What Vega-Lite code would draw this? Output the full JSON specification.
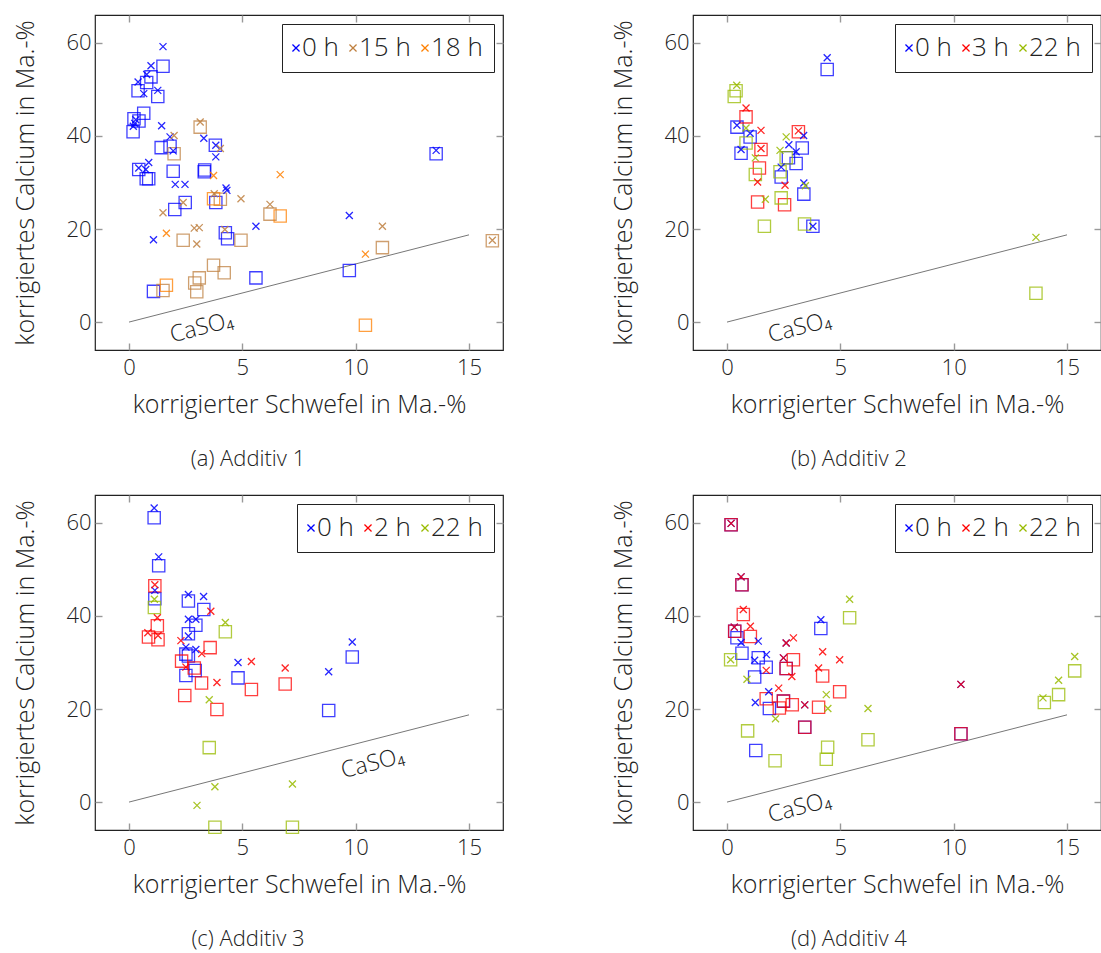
{
"$schema":"https://vega.github.io/schema/vega-lite/v6.json",
"padding":{"left":13,"top":13,"right":0,"bottom":0},
"background":"white",
"columns":2,
"spacing":{"row":145,"column":190},
"bounds":"flush",
"resolve":{"scale":{"color":"independent"},"legend":{"color":"independent"}},
"config":{
 "font":"Open Sans",
 "view":{"stroke":"#222","strokeWidth":1.2},
 "axis":{"domain":false,"grid":false,"tickSize":-7,"tickColor":"#999","tickWidth":1.4,"labelFont":"Open Sans","labelFontSize":22,"labelFontWeight":300,"labelColor":"#222","titleFont":"Open Sans","titleFontSize":25,"titleFontWeight":300,"titleColor":"#222"},
 "axisX":{"labelPadding":14,"titlePadding":14},
 "axisY":{"labelPadding":11,"titlePadding":27},
 "title":{"font":"Open Sans","fontSize":22,"fontWeight":300,"color":"#222"},
 "legend":{"orient":"top-right","direction":"horizontal","symbolType":"M-1,-1L1,1M-1,1L1,-1","symbolSize":50,"symbolStrokeWidth":1.3,"symbolOpacity":1,"symbolOffset":-10,"labelFont":"Open Sans","labelFontSize":26,"labelFontWeight":300,"labelColor":"#222","strokeColor":"#222","fillColor":"white","padding":11,"offset":9,"columnPadding":7,"labelOffset":-7}
},
"datasets":{
 "caso4":[{"S":0,"Ca":0},{"S":15,"Ca":18.75}],
 "lab_abd":[{"S":3.2,"Ca":-1.2,"txt":"CaSO₄"}],
 "lab_c":[{"S":10.75,"Ca":8.3,"txt":"CaSO₄"}],
 "a":[
  {"t":"0 h","m":"x","S":1.50,"Ca":59.2},{"t":"0 h","m":"x","S":0.97,"Ca":55.1},{"t":"0 h","m":"x","S":0.78,"Ca":53.2},{"t":"0 h","m":"x","S":0.40,"Ca":51.6},{"t":"0 h","m":"x","S":0.65,"Ca":49.1},{"t":"0 h","m":"x","S":1.27,"Ca":49.8},{"t":"0 h","m":"x","S":0.30,"Ca":43.5},{"t":"0 h","m":"x","S":0.25,"Ca":42.7},{"t":"0 h","m":"x","S":0.19,"Ca":42.1},{"t":"0 h","m":"x","S":1.44,"Ca":42.2},{"t":"0 h","m":"x","S":1.81,"Ca":39.8},{"t":"0 h","m":"x","S":1.95,"Ca":36.8},{"t":"0 h","m":"x","S":3.30,"Ca":39.5},{"t":"0 h","m":"x","S":3.83,"Ca":38.0},{"t":"0 h","m":"x","S":3.83,"Ca":35.5},{"t":"0 h","m":"x","S":0.87,"Ca":34.3},{"t":"0 h","m":"x","S":0.43,"Ca":33.1},{"t":"0 h","m":"x","S":0.74,"Ca":32.8},{"t":"0 h","m":"x","S":2.04,"Ca":29.6},{"t":"0 h","m":"x","S":2.47,"Ca":29.6},{"t":"0 h","m":"x","S":4.28,"Ca":28.8},{"t":"0 h","m":"x","S":4.32,"Ca":28.3},{"t":"0 h","m":"x","S":5.6,"Ca":20.6},{"t":"0 h","m":"x","S":9.72,"Ca":22.9},{"t":"0 h","m":"x","S":1.08,"Ca":17.7},{"t":"0 h","m":"x","S":13.55,"Ca":36.9},
  {"t":"0 h","m":"s","S":1.50,"Ca":55.0},{"t":"0 h","m":"s","S":0.97,"Ca":52.7},{"t":"0 h","m":"s","S":0.78,"Ca":51.5},{"t":"0 h","m":"s","S":0.40,"Ca":49.7},{"t":"0 h","m":"s","S":1.27,"Ca":48.5},{"t":"0 h","m":"s","S":0.65,"Ca":44.9},{"t":"0 h","m":"s","S":0.22,"Ca":43.7},{"t":"0 h","m":"s","S":0.44,"Ca":43.2},{"t":"0 h","m":"s","S":0.18,"Ca":40.9},{"t":"0 h","m":"s","S":1.42,"Ca":37.5},{"t":"0 h","m":"s","S":1.81,"Ca":37.8},{"t":"0 h","m":"s","S":3.81,"Ca":38.0},{"t":"0 h","m":"s","S":0.43,"Ca":32.8},{"t":"0 h","m":"s","S":0.76,"Ca":30.8},{"t":"0 h","m":"s","S":0.87,"Ca":30.8},{"t":"0 h","m":"s","S":1.95,"Ca":32.4},{"t":"0 h","m":"s","S":3.32,"Ca":32.3},{"t":"0 h","m":"s","S":3.34,"Ca":32.7},{"t":"0 h","m":"s","S":2.48,"Ca":25.7},{"t":"0 h","m":"s","S":2.02,"Ca":24.2},{"t":"0 h","m":"s","S":3.83,"Ca":25.7},{"t":"0 h","m":"s","S":4.25,"Ca":19.2},{"t":"0 h","m":"s","S":4.35,"Ca":17.9},{"t":"0 h","m":"s","S":5.6,"Ca":9.5},{"t":"0 h","m":"s","S":9.72,"Ca":11.1},{"t":"0 h","m":"s","S":1.08,"Ca":6.6},{"t":"0 h","m":"s","S":13.55,"Ca":36.2},
  {"t":"15 h","m":"x","S":3.14,"Ca":43.0},{"t":"15 h","m":"x","S":1.99,"Ca":40.1},{"t":"15 h","m":"x","S":4.03,"Ca":37.3},{"t":"15 h","m":"x","S":3.76,"Ca":27.6},{"t":"15 h","m":"x","S":4.94,"Ca":26.5},{"t":"15 h","m":"x","S":6.22,"Ca":25.3},{"t":"15 h","m":"x","S":2.39,"Ca":25.7},{"t":"15 h","m":"x","S":1.50,"Ca":23.5},{"t":"15 h","m":"x","S":2.88,"Ca":20.2},{"t":"15 h","m":"x","S":3.10,"Ca":20.3},{"t":"15 h","m":"x","S":4.23,"Ca":19.9},{"t":"15 h","m":"x","S":2.99,"Ca":16.8},{"t":"15 h","m":"x","S":11.18,"Ca":20.6},{"t":"15 h","m":"x","S":16.03,"Ca":17.6},
  {"t":"15 h","m":"s","S":3.14,"Ca":41.9},{"t":"15 h","m":"s","S":1.99,"Ca":36.2},{"t":"15 h","m":"s","S":4.03,"Ca":26.4},{"t":"15 h","m":"s","S":6.22,"Ca":23.2},{"t":"15 h","m":"s","S":2.39,"Ca":17.6},{"t":"15 h","m":"s","S":4.94,"Ca":17.6},{"t":"15 h","m":"s","S":11.18,"Ca":16.0},{"t":"15 h","m":"s","S":16.03,"Ca":17.5},{"t":"15 h","m":"s","S":3.73,"Ca":12.2},{"t":"15 h","m":"s","S":4.20,"Ca":10.6},{"t":"15 h","m":"s","S":3.10,"Ca":9.5},{"t":"15 h","m":"s","S":2.90,"Ca":8.4},{"t":"15 h","m":"s","S":2.99,"Ca":6.5},{"t":"15 h","m":"s","S":1.50,"Ca":6.8},
  {"t":"18 h","m":"x","S":3.73,"Ca":31.5},{"t":"18 h","m":"x","S":6.67,"Ca":31.7},{"t":"18 h","m":"x","S":1.65,"Ca":19.1},{"t":"18 h","m":"x","S":10.43,"Ca":14.6},
  {"t":"18 h","m":"s","S":3.73,"Ca":26.5},{"t":"18 h","m":"s","S":6.67,"Ca":22.8},{"t":"18 h","m":"s","S":1.65,"Ca":7.9},{"t":"18 h","m":"s","S":10.43,"Ca":-0.7}
 ],
 "b":[
  {"t":"0 h","m":"x","S":4.42,"Ca":56.8},{"t":"0 h","m":"x","S":0.44,"Ca":42.3},{"t":"0 h","m":"x","S":1.02,"Ca":40.6},{"t":"0 h","m":"x","S":0.62,"Ca":37.1},{"t":"0 h","m":"x","S":2.73,"Ca":38.1},{"t":"0 h","m":"x","S":3.38,"Ca":40.1},{"t":"0 h","m":"x","S":3.05,"Ca":36.6},{"t":"0 h","m":"x","S":2.39,"Ca":33.3},{"t":"0 h","m":"x","S":3.39,"Ca":29.9},{"t":"0 h","m":"x","S":3.79,"Ca":20.6},
  {"t":"0 h","m":"s","S":4.42,"Ca":54.3},{"t":"0 h","m":"s","S":0.44,"Ca":41.9},{"t":"0 h","m":"s","S":1.02,"Ca":39.8},{"t":"0 h","m":"s","S":0.62,"Ca":36.3},{"t":"0 h","m":"s","S":3.32,"Ca":37.4},{"t":"0 h","m":"s","S":2.71,"Ca":35.3},{"t":"0 h","m":"s","S":3.05,"Ca":34.1},{"t":"0 h","m":"s","S":2.39,"Ca":31.2},{"t":"0 h","m":"s","S":3.39,"Ca":27.5},{"t":"0 h","m":"s","S":3.79,"Ca":20.6},
  {"t":"3 h","m":"x","S":0.84,"Ca":46.0},{"t":"3 h","m":"x","S":1.50,"Ca":41.2},{"t":"3 h","m":"x","S":3.15,"Ca":41.1},{"t":"3 h","m":"x","S":1.50,"Ca":37.3},{"t":"3 h","m":"x","S":1.35,"Ca":30.1},{"t":"3 h","m":"x","S":2.56,"Ca":29.4},
  {"t":"3 h","m":"s","S":0.84,"Ca":44.1},{"t":"3 h","m":"s","S":3.15,"Ca":40.9},{"t":"3 h","m":"s","S":1.50,"Ca":37.1},{"t":"3 h","m":"s","S":1.43,"Ca":33.1},{"t":"3 h","m":"s","S":1.35,"Ca":25.8},{"t":"3 h","m":"s","S":2.54,"Ca":25.2},
  {"t":"22 h","m":"x","S":0.43,"Ca":50.9},{"t":"22 h","m":"x","S":0.84,"Ca":41.7},{"t":"22 h","m":"x","S":2.61,"Ca":39.8},{"t":"22 h","m":"x","S":2.34,"Ca":36.9},{"t":"22 h","m":"x","S":1.25,"Ca":35.3},{"t":"22 h","m":"x","S":1.69,"Ca":26.4},{"t":"22 h","m":"x","S":3.46,"Ca":29.3},{"t":"22 h","m":"x","S":13.63,"Ca":18.2},
  {"t":"22 h","m":"s","S":0.40,"Ca":49.7},{"t":"22 h","m":"s","S":0.32,"Ca":48.5},{"t":"22 h","m":"s","S":0.84,"Ca":38.5},{"t":"22 h","m":"s","S":2.61,"Ca":35.3},{"t":"22 h","m":"s","S":1.25,"Ca":31.7},{"t":"22 h","m":"s","S":2.34,"Ca":32.3},{"t":"22 h","m":"s","S":2.39,"Ca":26.7},{"t":"22 h","m":"s","S":1.65,"Ca":20.6},{"t":"22 h","m":"s","S":3.42,"Ca":21.1},{"t":"22 h","m":"s","S":13.63,"Ca":6.2}
 ],
 "c":[
  {"t":"0 h","m":"x","S":1.11,"Ca":63.2},{"t":"0 h","m":"x","S":1.31,"Ca":52.7},{"t":"0 h","m":"x","S":1.14,"Ca":45.5},{"t":"0 h","m":"x","S":2.62,"Ca":44.6},{"t":"0 h","m":"x","S":3.29,"Ca":44.2},{"t":"0 h","m":"x","S":2.62,"Ca":39.3},{"t":"0 h","m":"x","S":2.95,"Ca":39.3},{"t":"0 h","m":"x","S":2.62,"Ca":35.7},{"t":"0 h","m":"x","S":2.51,"Ca":33.3},{"t":"0 h","m":"x","S":2.95,"Ca":32.8},{"t":"0 h","m":"x","S":4.81,"Ca":30.0},{"t":"0 h","m":"x","S":9.85,"Ca":34.4},{"t":"0 h","m":"x","S":8.81,"Ca":28.0},
  {"t":"0 h","m":"s","S":1.11,"Ca":61.1},{"t":"0 h","m":"s","S":1.31,"Ca":50.8},{"t":"0 h","m":"s","S":1.14,"Ca":43.7},{"t":"0 h","m":"s","S":2.62,"Ca":43.2},{"t":"0 h","m":"s","S":3.30,"Ca":41.4},{"t":"0 h","m":"s","S":2.95,"Ca":38.0},{"t":"0 h","m":"s","S":2.62,"Ca":36.2},{"t":"0 h","m":"s","S":2.51,"Ca":31.8},{"t":"0 h","m":"s","S":2.62,"Ca":31.4},{"t":"0 h","m":"s","S":2.92,"Ca":28.3},{"t":"0 h","m":"s","S":2.51,"Ca":27.2},{"t":"0 h","m":"s","S":4.81,"Ca":26.7},{"t":"0 h","m":"s","S":9.85,"Ca":31.2},{"t":"0 h","m":"s","S":8.81,"Ca":19.7},
  {"t":"2 h","m":"x","S":1.14,"Ca":46.7},{"t":"2 h","m":"x","S":1.25,"Ca":39.6},{"t":"2 h","m":"x","S":0.83,"Ca":36.4},{"t":"2 h","m":"x","S":1.28,"Ca":35.8},{"t":"2 h","m":"x","S":3.61,"Ca":41.0},{"t":"2 h","m":"x","S":2.29,"Ca":34.7},{"t":"2 h","m":"x","S":3.21,"Ca":31.9},{"t":"2 h","m":"x","S":2.51,"Ca":29.0},{"t":"2 h","m":"x","S":5.40,"Ca":30.2},{"t":"2 h","m":"x","S":6.89,"Ca":28.8},{"t":"2 h","m":"x","S":3.88,"Ca":25.7},
  {"t":"2 h","m":"s","S":1.14,"Ca":46.5},{"t":"2 h","m":"s","S":1.25,"Ca":37.9},{"t":"2 h","m":"s","S":0.86,"Ca":35.5},{"t":"2 h","m":"s","S":1.28,"Ca":34.9},{"t":"2 h","m":"s","S":3.58,"Ca":33.2},{"t":"2 h","m":"s","S":2.32,"Ca":30.3},{"t":"2 h","m":"s","S":2.88,"Ca":28.8},{"t":"2 h","m":"s","S":5.40,"Ca":24.2},{"t":"2 h","m":"s","S":6.89,"Ca":25.4},{"t":"2 h","m":"s","S":3.20,"Ca":25.6},{"t":"2 h","m":"s","S":3.88,"Ca":19.9},{"t":"2 h","m":"s","S":2.46,"Ca":22.9},
  {"t":"22 h","m":"x","S":1.12,"Ca":43.6},{"t":"22 h","m":"x","S":4.25,"Ca":38.6},{"t":"22 h","m":"x","S":3.54,"Ca":22.0},{"t":"22 h","m":"x","S":3.79,"Ca":3.3},{"t":"22 h","m":"x","S":7.21,"Ca":3.9},{"t":"22 h","m":"x","S":3.0,"Ca":-0.7},
  {"t":"22 h","m":"s","S":1.12,"Ca":41.8},{"t":"22 h","m":"s","S":4.25,"Ca":36.6},{"t":"22 h","m":"s","S":3.54,"Ca":11.7},{"t":"22 h","m":"s","S":3.79,"Ca":-5.4},{"t":"22 h","m":"s","S":7.21,"Ca":-5.4}
 ],
 "d":[
  {"t":"0 h","m":"x","S":0.18,"Ca":59.9},{"t":"0 h","m":"x","S":0.62,"Ca":48.4},{"t":"0 h","m":"x","S":0.32,"Ca":37.6},{"t":"0 h","m":"x","S":0.62,"Ca":34.3},{"t":"0 h","m":"x","S":1.38,"Ca":34.6},{"t":"0 h","m":"x","S":1.74,"Ca":31.7},{"t":"0 h","m":"x","S":1.22,"Ca":30.5},{"t":"0 h","m":"x","S":4.14,"Ca":39.2},{"t":"0 h","m":"x","S":2.61,"Ca":34.2},{"t":"0 h","m":"x","S":2.49,"Ca":31.0},{"t":"0 h","m":"x","S":1.84,"Ca":23.7},{"t":"0 h","m":"x","S":1.25,"Ca":21.4},{"t":"0 h","m":"x","S":3.43,"Ca":20.9},{"t":"0 h","m":"x","S":10.32,"Ca":25.3},
  {"t":"0 h","m":"s","S":0.18,"Ca":59.6},{"t":"0 h","m":"s","S":0.66,"Ca":46.7},{"t":"0 h","m":"s","S":0.34,"Ca":36.7},{"t":"0 h","m":"s","S":0.44,"Ca":35.3},{"t":"0 h","m":"s","S":0.66,"Ca":32.0},{"t":"0 h","m":"s","S":1.38,"Ca":31.0},{"t":"0 h","m":"s","S":1.73,"Ca":29.0},{"t":"0 h","m":"s","S":1.22,"Ca":26.9},{"t":"0 h","m":"s","S":4.14,"Ca":37.3},{"t":"0 h","m":"s","S":2.61,"Ca":28.7},{"t":"0 h","m":"s","S":2.49,"Ca":21.7},{"t":"0 h","m":"s","S":1.87,"Ca":20.1},{"t":"0 h","m":"s","S":3.43,"Ca":16.1},{"t":"0 h","m":"s","S":1.27,"Ca":11.1},{"t":"0 h","m":"s","S":10.32,"Ca":14.7},
  {"t":"2 h","m":"x","S":0.18,"Ca":59.9},{"t":"2 h","m":"x","S":0.62,"Ca":48.4},{"t":"2 h","m":"x","S":0.72,"Ca":41.4},{"t":"2 h","m":"x","S":0.32,"Ca":37.6},{"t":"2 h","m":"x","S":1.03,"Ca":37.8},{"t":"2 h","m":"x","S":1.73,"Ca":28.3},{"t":"2 h","m":"x","S":2.61,"Ca":34.2},{"t":"2 h","m":"x","S":2.93,"Ca":35.3},{"t":"2 h","m":"x","S":2.49,"Ca":31.0},{"t":"2 h","m":"x","S":2.86,"Ca":27.0},{"t":"2 h","m":"x","S":4.22,"Ca":32.3},{"t":"2 h","m":"x","S":4.97,"Ca":30.6},{"t":"2 h","m":"x","S":4.04,"Ca":28.8},{"t":"2 h","m":"x","S":2.28,"Ca":24.5},{"t":"2 h","m":"x","S":3.43,"Ca":20.9},{"t":"2 h","m":"x","S":10.32,"Ca":25.3},
  {"t":"2 h","m":"s","S":0.18,"Ca":59.6},{"t":"2 h","m":"s","S":0.66,"Ca":46.7},{"t":"2 h","m":"s","S":0.72,"Ca":40.3},{"t":"2 h","m":"s","S":0.34,"Ca":36.7},{"t":"2 h","m":"s","S":1.03,"Ca":35.6},{"t":"2 h","m":"s","S":2.61,"Ca":28.7},{"t":"2 h","m":"s","S":2.93,"Ca":30.6},{"t":"2 h","m":"s","S":4.22,"Ca":27.1},{"t":"2 h","m":"s","S":4.97,"Ca":23.7},{"t":"2 h","m":"s","S":1.73,"Ca":22.2},{"t":"2 h","m":"s","S":2.49,"Ca":21.7},{"t":"2 h","m":"s","S":2.88,"Ca":20.9},{"t":"2 h","m":"s","S":2.31,"Ca":20.2},{"t":"2 h","m":"s","S":4.04,"Ca":20.4},{"t":"2 h","m":"s","S":3.43,"Ca":16.1},{"t":"2 h","m":"s","S":10.32,"Ca":14.7},
  {"t":"22 h","m":"x","S":0.16,"Ca":30.6},{"t":"22 h","m":"x","S":0.88,"Ca":26.4},{"t":"22 h","m":"x","S":5.41,"Ca":43.6},{"t":"22 h","m":"x","S":4.38,"Ca":23.1},{"t":"22 h","m":"x","S":4.45,"Ca":20.1},{"t":"22 h","m":"x","S":6.22,"Ca":20.1},{"t":"22 h","m":"x","S":2.14,"Ca":17.9},{"t":"22 h","m":"x","S":13.94,"Ca":22.4},{"t":"22 h","m":"x","S":14.63,"Ca":26.2},{"t":"22 h","m":"x","S":15.34,"Ca":31.3},
  {"t":"22 h","m":"s","S":0.16,"Ca":30.6},{"t":"22 h","m":"s","S":5.41,"Ca":39.6},{"t":"22 h","m":"s","S":6.22,"Ca":13.4},{"t":"22 h","m":"s","S":0.91,"Ca":15.3},{"t":"22 h","m":"s","S":2.12,"Ca":8.9},{"t":"22 h","m":"s","S":4.44,"Ca":11.8},{"t":"22 h","m":"s","S":4.38,"Ca":9.2},{"t":"22 h","m":"s","S":14.0,"Ca":21.4},{"t":"22 h","m":"s","S":14.63,"Ca":23.1},{"t":"22 h","m":"s","S":15.34,"Ca":28.2}
 ]
},
"concat":[
 {"width":408,"height":335,"title":{"text":"(a) Additiv 1","orient":"bottom","dx":-51,"offset":32},
  "resolve":{"axis":{"x":"independent","y":"independent"},"legend":{"color":"independent"}},
  "layer":[
   {"data":{"name":"caso4"},"mark":{"type":"line","color":"#777","strokeWidth":1},
    "encoding":{"x":{"field":"S","type":"quantitative","scale":{"domain":[-1.5,16.5],"nice":false,"zero":false},"axis":{"orient":"top","labels":false,"title":null,"values":[0,5,10,15]}},
                "y":{"field":"Ca","type":"quantitative","scale":{"domain":[-6,66],"nice":false,"zero":false},"axis":{"orient":"right","labels":false,"title":null,"values":[0,20,40,60]}}}},
   {"data":{"name":"lab_abd"},"mark":{"type":"text","angle":-14.4,"fontSize":23,"font":"Open Sans","fontWeight":300,"color":"#222","align":"center","baseline":"middle"},
    "encoding":{"x":{"field":"S","type":"quantitative","scale":{"domain":[-1.5,16.5],"nice":false,"zero":false},"axis":null},"y":{"field":"Ca","type":"quantitative","scale":{"domain":[-6,66],"nice":false,"zero":false},"axis":null},"text":{"field":"txt"}}},
   {"data":{"name":"a"},"transform":[{"filter":"datum.m === 's'"}],"mark":{"type":"point","shape":"square","filled":false,"size":150,"strokeWidth":1.3,"opacity":0.75},
    "encoding":{"x":{"field":"S","type":"quantitative","scale":{"domain":[-1.5,16.5],"nice":false,"zero":false},"axis":null},"y":{"field":"Ca","type":"quantitative","scale":{"domain":[-6,66],"nice":false,"zero":false},"axis":null},
                "color":{"field":"t","type":"nominal","scale":{"domain":["0 h","15 h","18 h"],"range":["#0000ff","#bf8040","#ff8000"]},"legend":null}}},
   {"data":{"name":"a"},"transform":[{"filter":"datum.m === 'x'"}],"mark":{"type":"point","shape":"M-1,-1L1,1M-1,1L1,-1","filled":false,"size":49,"strokeWidth":1.3,"opacity":0.85},
    "encoding":{"x":{"field":"S","type":"quantitative","scale":{"domain":[-1.5,16.5],"nice":false,"zero":false},"axis":{"orient":"bottom","values":[0,5,10,15],"title":"korrigierter Schwefel in Ma.-%"}},
                "y":{"field":"Ca","type":"quantitative","scale":{"domain":[-6,66],"nice":false,"zero":false},"axis":{"orient":"left","values":[0,20,40,60],"title":"korrigiertes Calcium in Ma.-%"}},
                "color":{"field":"t","type":"nominal","scale":{"domain":["0 h","15 h","18 h"],"range":["#0000ff","#bf8040","#ff8000"]},"legend":{"title":null,"symbolSize":50}}}}
  ]},
 {"width":408,"height":335,"title":{"text":"(b) Additiv 2","orient":"bottom","dx":-48,"offset":32},
  "resolve":{"axis":{"x":"independent","y":"independent"},"legend":{"color":"independent"}},
  "layer":[
   {"data":{"name":"caso4"},"mark":{"type":"line","color":"#777","strokeWidth":1},
    "encoding":{"x":{"field":"S","type":"quantitative","scale":{"domain":[-1.5,16.5],"nice":false,"zero":false},"axis":{"orient":"top","labels":false,"title":null,"values":[0,5,10,15]}},
                "y":{"field":"Ca","type":"quantitative","scale":{"domain":[-6,66],"nice":false,"zero":false},"axis":{"orient":"right","labels":false,"title":null,"values":[0,20,40,60]}}}},
   {"data":{"name":"lab_abd"},"mark":{"type":"text","angle":-14.4,"fontSize":23,"font":"Open Sans","fontWeight":300,"color":"#222","align":"center","baseline":"middle"},
    "encoding":{"x":{"field":"S","type":"quantitative","scale":{"domain":[-1.5,16.5],"nice":false,"zero":false},"axis":null},"y":{"field":"Ca","type":"quantitative","scale":{"domain":[-6,66],"nice":false,"zero":false},"axis":null},"text":{"field":"txt"}}},
   {"data":{"name":"b"},"transform":[{"filter":"datum.m === 's'"}],"mark":{"type":"point","shape":"square","filled":false,"size":150,"strokeWidth":1.3,"opacity":0.75},
    "encoding":{"x":{"field":"S","type":"quantitative","scale":{"domain":[-1.5,16.5],"nice":false,"zero":false},"axis":null},"y":{"field":"Ca","type":"quantitative","scale":{"domain":[-6,66],"nice":false,"zero":false},"axis":null},
                "color":{"field":"t","type":"nominal","scale":{"domain":["0 h","3 h","22 h"],"range":["#0000ff","#ff0000","#99bb00"]},"legend":null}}},
   {"data":{"name":"b"},"transform":[{"filter":"datum.m === 'x'"}],"mark":{"type":"point","shape":"M-1,-1L1,1M-1,1L1,-1","filled":false,"size":49,"strokeWidth":1.3,"opacity":0.85},
    "encoding":{"x":{"field":"S","type":"quantitative","scale":{"domain":[-1.5,16.5],"nice":false,"zero":false},"axis":{"orient":"bottom","values":[0,5,10,15],"title":"korrigierter Schwefel in Ma.-%"}},
                "y":{"field":"Ca","type":"quantitative","scale":{"domain":[-6,66],"nice":false,"zero":false},"axis":{"orient":"left","values":[0,20,40,60],"title":"korrigiertes Calcium in Ma.-%"}},
                "color":{"field":"t","type":"nominal","scale":{"domain":["0 h","3 h","22 h"],"range":["#0000ff","#ff0000","#99bb00"]},"legend":{"title":null,"symbolSize":50}}}}
  ]},
 {"width":408,"height":335,"title":{"text":"(c) Additiv 3","orient":"bottom","dx":-51,"offset":32},
  "resolve":{"axis":{"x":"independent","y":"independent"},"legend":{"color":"independent"}},
  "layer":[
   {"data":{"name":"caso4"},"mark":{"type":"line","color":"#777","strokeWidth":1},
    "encoding":{"x":{"field":"S","type":"quantitative","scale":{"domain":[-1.5,16.5],"nice":false,"zero":false},"axis":{"orient":"top","labels":false,"title":null,"values":[0,5,10,15]}},
                "y":{"field":"Ca","type":"quantitative","scale":{"domain":[-6,66],"nice":false,"zero":false},"axis":{"orient":"right","labels":false,"title":null,"values":[0,20,40,60]}}}},
   {"data":{"name":"lab_c"},"mark":{"type":"text","angle":-14.4,"fontSize":23,"font":"Open Sans","fontWeight":300,"color":"#222","align":"center","baseline":"middle"},
    "encoding":{"x":{"field":"S","type":"quantitative","scale":{"domain":[-1.5,16.5],"nice":false,"zero":false},"axis":null},"y":{"field":"Ca","type":"quantitative","scale":{"domain":[-6,66],"nice":false,"zero":false},"axis":null},"text":{"field":"txt"}}},
   {"data":{"name":"c"},"transform":[{"filter":"datum.m === 's'"}],"mark":{"type":"point","shape":"square","filled":false,"size":150,"strokeWidth":1.3,"opacity":0.75},
    "encoding":{"x":{"field":"S","type":"quantitative","scale":{"domain":[-1.5,16.5],"nice":false,"zero":false},"axis":null},"y":{"field":"Ca","type":"quantitative","scale":{"domain":[-6,66],"nice":false,"zero":false},"axis":null},
                "color":{"field":"t","type":"nominal","scale":{"domain":["0 h","2 h","22 h"],"range":["#0000ff","#ff0000","#99bb00"]},"legend":null}}},
   {"data":{"name":"c"},"transform":[{"filter":"datum.m === 'x'"}],"mark":{"type":"point","shape":"M-1,-1L1,1M-1,1L1,-1","filled":false,"size":49,"strokeWidth":1.3,"opacity":0.85},
    "encoding":{"x":{"field":"S","type":"quantitative","scale":{"domain":[-1.5,16.5],"nice":false,"zero":false},"axis":{"orient":"bottom","values":[0,5,10,15],"title":"korrigierter Schwefel in Ma.-%"}},
                "y":{"field":"Ca","type":"quantitative","scale":{"domain":[-6,66],"nice":false,"zero":false},"axis":{"orient":"left","values":[0,20,40,60],"title":"korrigiertes Calcium in Ma.-%"}},
                "color":{"field":"t","type":"nominal","scale":{"domain":["0 h","2 h","22 h"],"range":["#0000ff","#ff0000","#99bb00"]},"legend":{"title":null,"symbolSize":50}}}}
  ]},
 {"width":408,"height":335,"title":{"text":"(d) Additiv 4","orient":"bottom","dx":-48,"offset":32},
  "resolve":{"axis":{"x":"independent","y":"independent"},"legend":{"color":"independent"}},
  "layer":[
   {"data":{"name":"caso4"},"mark":{"type":"line","color":"#777","strokeWidth":1},
    "encoding":{"x":{"field":"S","type":"quantitative","scale":{"domain":[-1.5,16.5],"nice":false,"zero":false},"axis":{"orient":"top","labels":false,"title":null,"values":[0,5,10,15]}},
                "y":{"field":"Ca","type":"quantitative","scale":{"domain":[-6,66],"nice":false,"zero":false},"axis":{"orient":"right","labels":false,"title":null,"values":[0,20,40,60]}}}},
   {"data":{"name":"lab_abd"},"mark":{"type":"text","angle":-14.4,"fontSize":23,"font":"Open Sans","fontWeight":300,"color":"#222","align":"center","baseline":"middle"},
    "encoding":{"x":{"field":"S","type":"quantitative","scale":{"domain":[-1.5,16.5],"nice":false,"zero":false},"axis":null},"y":{"field":"Ca","type":"quantitative","scale":{"domain":[-6,66],"nice":false,"zero":false},"axis":null},"text":{"field":"txt"}}},
   {"data":{"name":"d"},"transform":[{"filter":"datum.m === 's'"}],"mark":{"type":"point","shape":"square","filled":false,"size":150,"strokeWidth":1.3,"opacity":0.75},
    "encoding":{"x":{"field":"S","type":"quantitative","scale":{"domain":[-1.5,16.5],"nice":false,"zero":false},"axis":null},"y":{"field":"Ca","type":"quantitative","scale":{"domain":[-6,66],"nice":false,"zero":false},"axis":null},
                "color":{"field":"t","type":"nominal","scale":{"domain":["0 h","2 h","22 h"],"range":["#0000ff","#ff0000","#99bb00"]},"legend":null}}},
   {"data":{"name":"d"},"transform":[{"filter":"datum.m === 'x'"}],"mark":{"type":"point","shape":"M-1,-1L1,1M-1,1L1,-1","filled":false,"size":49,"strokeWidth":1.3,"opacity":0.85},
    "encoding":{"x":{"field":"S","type":"quantitative","scale":{"domain":[-1.5,16.5],"nice":false,"zero":false},"axis":{"orient":"bottom","values":[0,5,10,15],"title":"korrigierter Schwefel in Ma.-%"}},
                "y":{"field":"Ca","type":"quantitative","scale":{"domain":[-6,66],"nice":false,"zero":false},"axis":{"orient":"left","values":[0,20,40,60],"title":"korrigiertes Calcium in Ma.-%"}},
                "color":{"field":"t","type":"nominal","scale":{"domain":["0 h","2 h","22 h"],"range":["#0000ff","#ff0000","#99bb00"]},"legend":{"title":null,"symbolSize":50}}}}
  ]}
]
}
